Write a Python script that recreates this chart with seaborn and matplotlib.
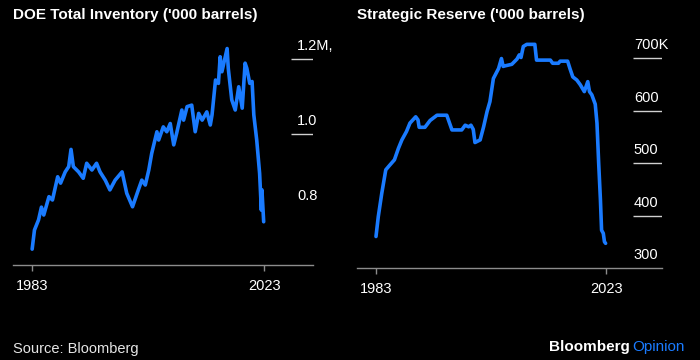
import matplotlib
matplotlib.use("Agg")
import matplotlib.pyplot as plt
import seaborn as sns
import pandas as pd

# DOE total inventory (million barrels)
doe_years = [1983.0, 1983.4, 1984.1, 1984.6, 1985.0, 1985.9, 1986.5, 1987.4, 1987.9, 1988.7,
             1989.3, 1989.7, 1990.1, 1991.0, 1991.8, 1992.4, 1993.3, 1994.1, 1994.7, 1995.6,
             1996.4, 1997.3, 1998.5, 1999.3, 2000.3, 2001.3, 2001.9, 2002.5, 2003.1, 2003.6,
             2004.5, 2004.8, 2005.6, 2006.2, 2006.8, 2007.4, 2007.9, 2008.8, 2009.1, 2009.7,
             2010.5, 2011.1, 2011.7, 2012.3, 2013.1, 2013.7, 2014.0, 2014.6, 2015.1, 2015.4,
             2015.7, 2016.6, 2016.8, 2017.4, 2018.0, 2018.6, 2019.2, 2019.7, 2020.0, 2020.5,
             2020.9, 2021.2, 2021.7, 2022.2, 2022.5, 2022.6, 2022.9]
doe_values = [0.693, 0.744, 0.771, 0.805, 0.784, 0.833, 0.824, 0.886, 0.869, 0.899,
              0.913, 0.959, 0.913, 0.899, 0.882, 0.922, 0.904, 0.922, 0.899, 0.877,
              0.851, 0.877, 0.899, 0.842, 0.806, 0.851, 0.877, 0.864, 0.904, 0.948,
              1.006, 0.984, 1.019, 1.006, 1.028, 0.971, 1.002, 1.064, 1.037, 1.073,
              1.077, 1.006, 1.055, 1.037, 1.059, 1.024, 1.051, 1.144, 1.135, 1.206,
              1.166, 1.228, 1.175, 1.091, 1.064, 1.126, 1.069, 1.189, 1.175, 1.135,
              1.140, 1.051, 0.984, 0.895, 0.797, 0.851, 0.766]

# Strategic petroleum reserve (thousand barrels, in thousands)
spr_years = [1983.0, 1983.4, 1984.0, 1984.7, 1985.4, 1986.2, 1986.9, 1987.5, 1988.3, 1988.9,
             1989.9, 1990.3, 1990.5, 1991.5, 1992.4, 1993.6, 1995.3, 1996.2, 1997.9, 1998.5,
             1999.1, 1999.5, 1999.9, 2000.2, 2001.1, 2001.7, 2002.3, 2002.8, 2003.4, 2004.3,
             2004.8, 2005.1, 2005.4, 2006.6, 2007.5, 2007.9, 2008.2, 2008.6, 2009.2, 2010.6,
             2010.9, 2012.1, 2013.3, 2013.7, 2014.7, 2015.0, 2016.3, 2016.7, 2017.2, 2017.9,
             2018.5, 2019.2, 2019.8, 2020.1, 2020.5, 2021.1, 2021.4, 2021.7, 2022.0, 2022.2,
             2022.5, 2022.7, 2022.9]
spr_values = [360, 398, 442, 487, 496, 506, 528, 544, 560, 576,
              588, 582, 568, 568, 581, 591, 591, 563, 563, 572,
              569, 572, 564, 539, 544, 569, 598, 617, 661, 680,
              699, 684, 685, 688, 698, 706, 701, 722, 726, 726,
              696, 696, 696, 690, 690, 694, 694, 680, 664, 658,
              649, 636, 655, 636, 630, 612, 576, 499, 430, 372,
              366, 350, 347]

doe_ticks = [0.8, 1.0, 1.2]
doe_labels = ["0.8", "1.0", "1.2M,"]
spr_ticks = [300, 400, 500, 600, 700]
spr_labels = ["300", "400", "500", "600", "700K"]
year_ticks = [1983, 2023]

titles = ["DOE Total Inventory ('000 barrels)", "Strategic Reserve ('000 barrels)"]

BLUE = "#1a7bff"
GRID = "#d0d0d0"
AXIS = "#8c8c8c"

sns.set_theme(style="dark")
plt.rcParams["font.family"] = ["Liberation Sans", "DejaVu Sans"]

fig = plt.figure(figsize=(7, 3.6), dpi=100, facecolor="black")
ax1 = fig.add_axes([13 / 700, 95 / 360, 300 / 700, 225 / 360])
ax2 = fig.add_axes([357 / 700, 92 / 360, 305 / 700, 228 / 360])

doe = pd.DataFrame({"year": doe_years, "value": doe_values})
spr = pd.DataFrame({"year": spr_years, "value": spr_values})

panels = [
    (ax1, doe, (1979.7, 2031.4), (0.6507, 1.2507), doe_ticks, doe_labels, [1.0, 1.2], 0.927, 0.947),
    (ax2, spr, (1979.7, 2032.7), (300, 734.3), spr_ticks, spr_labels, [400, 500, 600, 700], 0.905, 0.908),
]

for ax, df, xl, yl, yt, ylab, grid_at, gx0, lx in panels:
    ax.set_facecolor("black")
    sns.lineplot(data=df, x="year", y="value", ax=ax, color=BLUE, linewidth=2.6)
    ax.set_xlim(*xl)
    ax.set_ylim(*yl)
    for s in ["left", "right", "top"]:
        ax.spines[s].set_visible(False)
    ax.spines["bottom"].set_color(AXIS)
    ax.spines["bottom"].set_linewidth(1)
    ax.set_yticks([])
    ax.set_xticks(year_ticks)
    ax.set_xticklabels([str(y) for y in year_ticks])
    ax.tick_params(axis="x", colors=AXIS, length=4, width=1, direction="out", pad=6,
                   labelcolor="white", labelsize=10.5, bottom=True)
    ax.set_xlabel("")
    ax.set_ylabel("")
    ax.grid(False)
    ax.hlines(grid_at, gx0, 1.0, transform=ax.get_yaxis_transform(), color=GRID, linewidth=1)
    for v, lab in zip(yt, ylab):
        ax.annotate(lab, xy=(lx, v), xycoords=ax.get_yaxis_transform(), xytext=(0, 4),
                    textcoords="offset points", ha="left", va="bottom",
                    color="white", fontsize=10.5)

fig.text(13 / 700, 1 - 15 / 360, titles[0], color="white", fontsize=11,
         fontweight="bold", ha="left", va="center")
fig.text(357 / 700, 1 - 15 / 360, titles[1], color="white", fontsize=11,
         fontweight="bold", ha="left", va="center")
fig.text(13 / 700, 1 - 349 / 360, "Source: Bloomberg", color="#e6e6e6", fontsize=10.5,
         ha="left", va="center")
t = fig.text(1 - 15 / 700, 1 - 347 / 360, "Opinion", color=BLUE, fontsize=11,
             ha="right", va="center")
fig.canvas.draw()
bb = t.get_window_extent()
fig.text((bb.x0 - 3) / 700, 1 - 347 / 360, "Bloomberg", color="white", fontsize=11,
         fontweight="bold", ha="right", va="center")

fig.savefig("out.png", dpi=100, facecolor="black")
